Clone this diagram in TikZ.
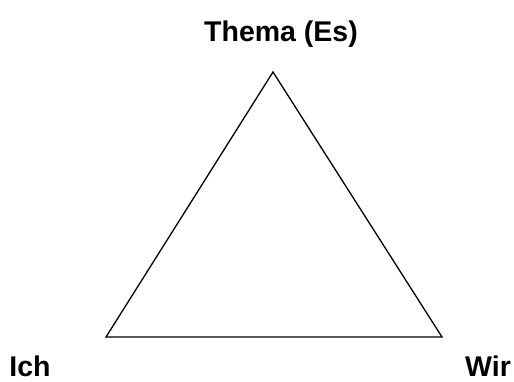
\documentclass[tikz,border=0pt]{standalone}
\usepackage{fontspec}
\setmainfont{Liberation Sans}
\begin{document}
\begin{tikzpicture}[x=1pt,y=-1pt,
  lbl/.style={font=\fontsize{28.5}{32}\selectfont\bfseries, anchor=base, inner sep=0pt, text depth=0pt},
  edge/.style={draw=black, line width=1.3pt, line join=miter}]
\useasboundingbox (0,0) rectangle (514,381);
\coordinate (A) at (273,72);
\coordinate (B) at (106,337);
\coordinate (C) at (442,337);
\draw[edge] (A) -- (B) -- (C) -- cycle;
\node[lbl] (thema) at (281,41) {Thema (Es)};
\node[lbl] (ich) at (30,376) {Ich};
\node[lbl] (wir) at (488,376) {Wir};
\end{tikzpicture}
\end{document}
